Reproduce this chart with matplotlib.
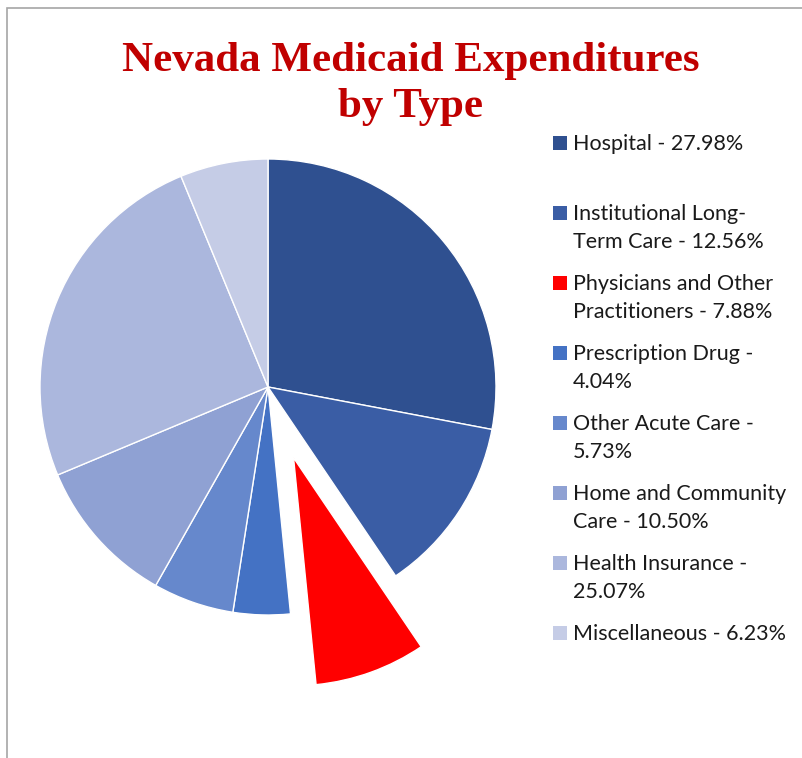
import matplotlib
matplotlib.use("Agg")
import matplotlib.pyplot as plt
from matplotlib.patches import Rectangle

categories = ["Hospital", "Institutional Long-Term Care", "Physicians and Other Practitioners",
              "Prescription Drug", "Other Acute Care", "Home and Community Care",
              "Health Insurance", "Miscellaneous"]
values = [27.98, 12.56, 7.88, 4.04, 5.73, 10.50, 25.07, 6.23]
legend_labels = ["Hospital - 27.98%", "Institutional Long-\nTerm Care - 12.56%",
                 "Physicians and Other\nPractitioners - 7.88%", "Prescription Drug -\n4.04%",
                 "Other Acute Care -\n5.73%", "Home and Community\nCare - 10.50%",
                 "Health Insurance -\n25.07%", "Miscellaneous - 6.23%"]
colors = ["#2F5090", "#3A5DA5", "#FF0000", "#4472C4", "#6688CC", "#8FA1D3", "#ABB7DD", "#C5CCE6"]
explode = [0, 0, 0.33, 0, 0, 0, 0, 0]

W, H = 802, 758
fig = plt.figure(figsize=(W / 100, H / 100), dpi=100)
fig.patch.set_facecolor("white")

# border
fig.patches.append(Rectangle((7 / W, -0.05), 1.2, 1 - 8 / H + 0.05, transform=fig.transFigure,
                             fill=False, edgecolor="#A6A6A6", linewidth=1.2))

cx, cy, r = 268, 387, 228
ax = fig.add_axes([(cx - r) / W, (H - cy - r) / H, 2 * r / W, 2 * r / H])
wedges, _ = ax.pie(values, colors=colors, explode=explode, startangle=90, counterclock=False,
                   radius=1, wedgeprops=dict(edgecolor="white", linewidth=1))
for w in wedges:
    w.set_clip_on(False)
ax.set_xlim(-1, 1)
ax.set_ylim(-1, 1)
ax.axis("off")

fig.text(411 / W, 1 - 61 / H, "Nevada Medicaid Expenditures", ha="center", va="center",
         fontsize=31, fontweight="bold", family="Liberation Serif", color="#C00000")
fig.text(411 / W, 1 - 107 / H, "by Type", ha="center", va="center",
         fontsize=31, fontweight="bold", family="Liberation Serif", color="#C00000")

y0 = 143
for i, (lab, col) in enumerate(zip(legend_labels, colors)):
    y = y0 + 70 * i
    fig.patches.append(Rectangle((553 / W, 1 - (y + 7) / H), 14 / W, 14 / H,
                                 transform=fig.transFigure, facecolor=col, edgecolor="none"))
    fig.text(573 / W, 1 - (y - 9) / H, lab, ha="left", va="top", fontsize=15.5,
             family="Lato", color="#1a1a1a", linespacing=1.5)

fig.savefig("out.png", dpi=100, facecolor="white")
